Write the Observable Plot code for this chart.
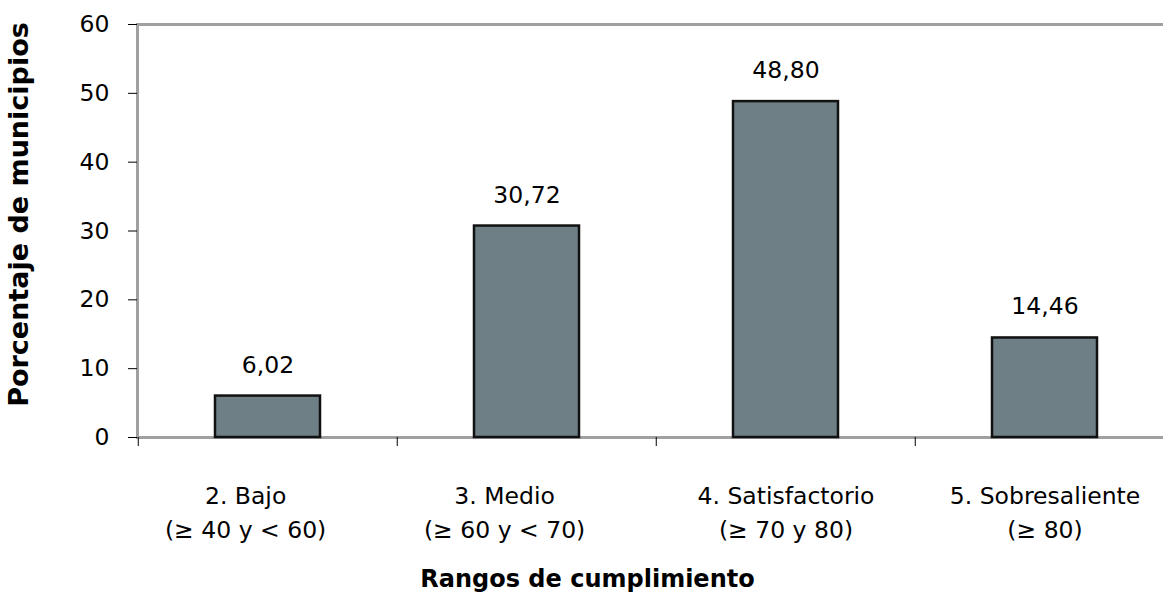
<!DOCTYPE html>
<html>
<head>
<meta charset="utf-8">
<script src="https://cdn.jsdelivr.net/npm/d3@7"></script>
<script src="https://cdn.jsdelivr.net/npm/@observablehq/plot@0.6"></script>
<style>
  html, body { margin: 0; padding: 0; background: #fff; overflow: hidden; }
  #chart svg { overflow: hidden; }
</style>
</head>
<body>
<div id="chart"></div>
<script>
const pad = "\u00a0\u00a0\u00a0\u00a0\u00a0\u00a0";
const categories = ["2. Bajo" + pad + "\n(≥ 40 y < 60)" + pad, "3. Medio" + pad + "\n(≥ 60 y < 70)" + pad, "4. Satisfactorio\n(≥ 70 y 80)", "5. Sobresaliente\n(≥ 80)"];
const values = [6.02, 30.72, 48.80, 14.46];
const yTicks = [0, 10, 20, 30, 40, 50, 60];
const yLabel = "Porcentaje de municipios";
const xLabel = "Rangos de cumplimiento";

const data = categories.map((c, i) => ({cat: c, value: values[i]}));
const fmt = d3.format(".2f");
const comma = v => fmt(v).replace(".", ",");

const W = 1163, H = 592;
const plotLeft = 137, plotTop = 24, plotBottom = 437, xEnd = 1175;
const band = (xEnd - plotLeft) / categories.length;
const font = "DejaVu Sans, Verdana, sans-serif";
const fs = 23.5;

const chart = Plot.plot({
  width: W,
  height: H,
  marginLeft: plotLeft,
  marginRight: 0,
  marginTop: plotTop,
  marginBottom: H - plotBottom,
  style: {fontFamily: font, fontSize: fs + "px", color: "#000", background: "#fff"},
  x: {domain: categories, range: [plotLeft, xEnd], paddingInner: 0.595, paddingOuter: 0.2975, label: null},
  y: {domain: [0, 60], range: [plotBottom, plotTop], label: null},
  marks: [
    Plot.ruleY([0, 60], {stroke: "#a0a0a0", strokeWidth: 3}),
    Plot.frame({anchor: "left", stroke: "#a0a0a0", strokeWidth: 3}),
    Plot.barY(data, {x: "cat", y: "value", fill: "#6e7f86", stroke: "#111", strokeWidth: 2.5}),
    Plot.text(data, {x: "cat", y: "value", text: d => comma(d.value), dy: -31, fontSize: fs, fill: "#000"}),
    Plot.axisY({ticks: yTicks, tickSize: 9, tickPadding: 19, stroke: "#000", fontSize: fs, fill: "#000", label: null}),
    Plot.axisX({tickSize: 9, tickFormat: () => "", dx: -band / 2, stroke: "#000", label: null}),
    Plot.axisX({tickSize: 0, tickPadding: 42, lineHeight: 1.447, fontSize: fs, fill: "#000", label: null}),
    Plot.text([xLabel], {frameAnchor: "bottom", lineAnchor: "middle", dx: -63, dy: 142, fontWeight: "bold", fontSize: 24, fill: "#000"}),
    Plot.text([yLabel], {frameAnchor: "left", textAnchor: "middle", lineAnchor: "middle", dx: -118, dy: 214 - (plotTop + plotBottom) / 2, rotate: -90, fontWeight: "bold", fontSize: 27, fill: "#000"})
  ]
});
document.getElementById("chart").appendChild(chart);
</script>
</body>
</html>
